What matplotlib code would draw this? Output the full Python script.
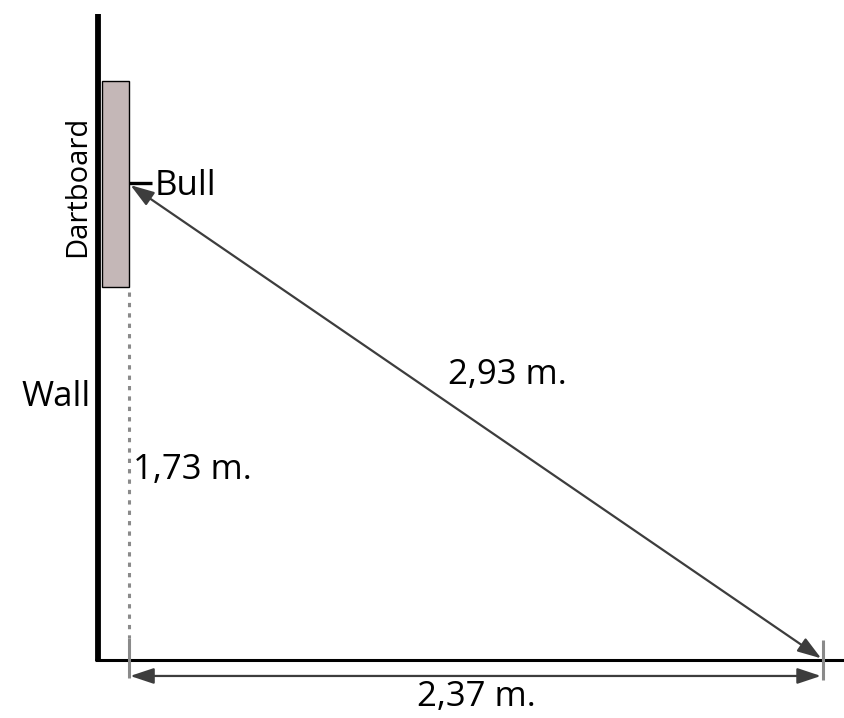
import matplotlib.pyplot as plt
from matplotlib.patches import Rectangle

# measured distances (metres)
horizontal = 2.37      # dartboard face to throw line
bull_height = 1.73     # floor to bull
diagonal = 2.93        # bull to throw line
labels = ["2,37 m.", "1,73 m.", "2,93 m."]

plt.rcParams['font.family'] = ['Open Sans', 'DejaVu Sans']

fig = plt.figure(figsize=(8.45, 7.18), dpi=100)
ax = fig.add_axes([0, 0, 1, 1])
ax.set_xlim(-0.4406, 2.4453)
ax.set_ylim(-0.2108, 2.399)
ax.axis('off')

arrow_c = '#3d3d3d'
grey = '#8a8a8a'

# wall and floor
wall_x = -0.106
ax.plot([wall_x, wall_x], [-0.002, 2.348], color='black', lw=4.2, solid_capstyle='butt')
ax.plot([-0.115, 2.4453], [0, 0], color='black', lw=2.2, solid_capstyle='butt')

# dartboard
board_bottom, board_top = 1.356, 2.105
ax.add_patch(Rectangle((-0.092, board_bottom), 0.092, board_top - board_bottom,
                       facecolor='#c4b7b7', edgecolor='black', lw=1.0, zorder=3))

# dotted drop from board to floor
ax.plot([0, 0], [board_bottom - 0.02, 0.08], color=grey, lw=2.2, ls=(0, (1.4, 2.0)))
# end ticks
ax.plot([0, 0], [0.08, -0.065], color=grey, lw=2.2, solid_capstyle='butt')
ax.plot([horizontal, horizontal], [0.073, -0.073], color=grey, lw=2.2, solid_capstyle='butt')

# bull marker
ax.plot([0, 0.079], [bull_height + 0.005, bull_height + 0.005], color='black', lw=2.4,
        solid_capstyle='butt', zorder=4)

aprops = dict(arrowstyle='<|-|>,head_length=0.9,head_width=0.3', color=arrow_c, lw=1.6,
              shrinkA=0, shrinkB=0, mutation_scale=16)
# diagonal
ax.annotate('', xy=(0.005, bull_height - 0.004), xytext=(horizontal - 0.006, 0.006),
            arrowprops=aprops, zorder=5)
# horizontal
ax.annotate('', xy=(0.004, -0.058), xytext=(horizontal - 0.007, -0.058),
            arrowprops=aprops, zorder=5)

fs = 25
ax.text(0.089, 1.722, 'Bull', fontsize=fs, ha='left', va='center')
ax.text(-0.174, 1.723, 'Dartboard', fontsize=21, rotation=90, ha='center', va='center')
ax.text(-0.131, 0.956, 'Wall', fontsize=fs, ha='right', va='center')
ax.text(0.014, 0.69, labels[1], fontsize=fs, ha='left', va='center')
ax.text(1.089, 1.036, labels[2], fontsize=fs, ha='left', va='center')
ax.text(horizontal / 2, -0.134, labels[0], fontsize=fs, ha='center', va='center')

fig.savefig('out.png', dpi=100)
